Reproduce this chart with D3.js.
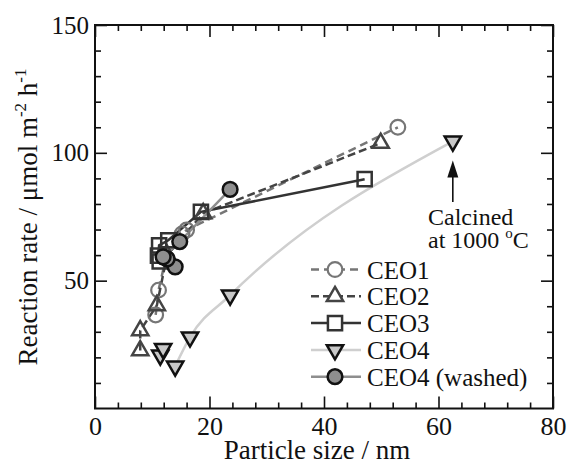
<!DOCTYPE html>
<html>
<head>
<meta charset="utf-8">
<script src="https://cdn.jsdelivr.net/npm/d3@7"></script>
<style>
  body { margin: 0; background: #fff; }
</style>
</head>
<body>
<script>
// particle size (nm) / reaction rate (umol m-2 h-1) per sample
const ceo1Size = [10.6, 11.1, 12.4, 15.2, 16.0, 52.9];
const ceo1Rate = [36.6, 46.3, 59.0, 68.3, 69.8, 110.0];

const ceo2Size = [7.9, 7.9, 10.8, 12.6, 18.9, 49.9];
const ceo2Rate = [22.7, 30.5, 40.3, 60.0, 76.3, 103.8];

const ceo3Size = [11.3, 11.0, 11.2, 12.8, 18.5, 47.1];
const ceo3Rate = [57.5, 59.8, 63.8, 65.8, 76.9, 89.7];

const ceo4Size = [11.4, 11.9, 14.0, 16.6, 23.6, 62.5];
const ceo4Rate = [20.8, 23.4, 16.5, 27.9, 44.3, 104.5];
const ceo4TrendIdx = [2, 3, 4, 5];   // points the grey guide curve runs through

const washedSize = [14.0, 12.6, 11.9, 14.8, 23.6];
const washedRate = [55.4, 58.5, 59.3, 65.3, 85.7];

const seriesNames = ["CEO1", "CEO2", "CEO3", "CEO4", "CEO4 (washed)"];
const xTicks = [0, 20, 40, 60, 80];
const yTicks = [50, 100, 150];

const W = 568, H = 464;
const margin = {top: 25, right: 15, bottom: 55.5, left: 95};
const FONT = "'Liberation Serif', 'Times New Roman', Times, 'DejaVu Serif', serif";

const x = d3.scaleLinear().domain([0, 80]).range([margin.left, W - margin.right]);
const y = d3.scaleLinear().domain([0, 150]).range([H - margin.bottom, margin.top]);

const svg = d3.select("body").append("svg")
  .attr("width", W).attr("height", H)
  .attr("font-family", FONT);

const zip = (xs, ys) => xs.map((v, i) => [v, ys[i]]);

const series = [
  {name: seriesNames[0], pts: zip(ceo1Size, ceo1Rate), color: "#767676", dash: "8,5", sym: d3.symbolCircle, size: 170, fill: "none", mstroke: "#767676", mw: 2.2, lw: 2.5},
  {name: seriesNames[1], pts: zip(ceo2Size, ceo2Rate), color: "#444", dash: "8,4", sym: d3.symbolTriangle, size: 115, rot: 0, fill: "none", mstroke: "#444", mw: 2.5, lw: 2.5},
  {name: seriesNames[2], pts: zip(ceo3Size, ceo3Rate), color: "#333", dash: null, sym: d3.symbolSquare, size: 200, fill: "none", mstroke: "#333", mw: 2.5, lw: 2.5},
  {name: seriesNames[3], pts: zip(ceo4Size, ceo4Rate), color: "#cfcfcf", dash: null, sym: d3.symbolTriangle, size: 115, rot: 180, fill: "#c8c8c8", mstroke: "#111", mw: 2.5, lw: 2.5,
    line: ceo4TrendIdx.map(i => [ceo4Size[i], ceo4Rate[i]]), curve: d3.curveMonotoneX},
  {name: seriesNames[4], pts: zip(washedSize, washedRate), color: "#8e8e8e", dash: null, sym: d3.symbolCircle, size: 170, fill: "#8e8e8e", mstroke: "#111", mw: 2.5, lw: 2.5}
];

const plot = svg.append("g");

series.forEach(s => {
  const line = d3.line().x(d => x(d[0])).y(d => y(d[1])).curve(s.curve || d3.curveLinear);
  plot.append("path")
    .attr("d", line(s.line || s.pts))
    .attr("fill", "none")
    .attr("stroke", s.color)
    .attr("stroke-width", s.lw)
    .attr("stroke-dasharray", s.dash);
});

series.forEach(s => {
  plot.selectAll(null).data(s.pts).enter().append("path")
    .attr("d", d3.symbol(s.sym, s.size))
    .attr("transform", d => "translate(" + x(d[0]) + "," + y(d[1]) + ")" + (s.rot ? " rotate(" + s.rot + ")" : ""))
    .attr("fill", s.fill)
    .attr("stroke", s.mstroke)
    .attr("stroke-width", s.mw);
});

// axes: ticks point inward on all four sides
const ax = svg.append("g");
const xMinor = d3.range(0, 81, 4).filter(v => v % 20 !== 0);
const yMinor = d3.range(0, 151, 10).filter(v => v % 50 !== 0);

function styleAxis(g) {
  g.attr("font-family", FONT);
  g.select(".domain").remove();
  g.selectAll(".tick line").attr("stroke", "#111").attr("stroke-width", 1.6);
}

ax.append("g").attr("transform", "translate(0," + y(0) + ")")
  .call(d3.axisBottom(x).tickValues(xTicks).tickSize(-12).tickPadding(8).tickFormat(d3.format("d")))
  .call(styleAxis)
  .selectAll("text").style("font-size", "26px").style("font-family", FONT).attr("fill", "#111");
ax.append("g").attr("transform", "translate(0," + y(0) + ")")
  .call(d3.axisBottom(x).tickValues(xMinor).tickSize(-6).tickFormat(""))
  .call(styleAxis);
ax.append("g").attr("transform", "translate(0," + y(150) + ")")
  .call(d3.axisTop(x).tickValues(xTicks).tickSize(-12).tickFormat(""))
  .call(styleAxis);
ax.append("g").attr("transform", "translate(0," + y(150) + ")")
  .call(d3.axisTop(x).tickValues(xMinor).tickSize(-6).tickFormat(""))
  .call(styleAxis);

ax.append("g").attr("transform", "translate(" + x(0) + ",0)")
  .call(d3.axisLeft(y).tickValues(yTicks).tickSize(-12).tickPadding(6).tickFormat(d3.format("d")))
  .call(styleAxis)
  .selectAll("text").style("font-size", "25px").style("font-family", FONT).attr("fill", "#111");
ax.append("g").attr("transform", "translate(" + x(0) + ",0)")
  .call(d3.axisLeft(y).tickValues(yMinor).tickSize(-6).tickFormat(""))
  .call(styleAxis);
ax.append("g").attr("transform", "translate(" + x(80) + ",0)")
  .call(d3.axisRight(y).tickValues(yTicks).tickSize(-12).tickFormat(""))
  .call(styleAxis);
ax.append("g").attr("transform", "translate(" + x(80) + ",0)")
  .call(d3.axisRight(y).tickValues(yMinor).tickSize(-6).tickFormat(""))
  .call(styleAxis);

svg.append("rect")
  .attr("x", x(0)).attr("y", y(150))
  .attr("width", x(80) - x(0)).attr("height", y(0) - y(150))
  .attr("fill", "none").attr("stroke", "#111").attr("stroke-width", 2);

// axis titles
svg.append("text")
  .attr("x", 317).attr("y", 459)
  .attr("text-anchor", "middle")
  .attr("fill", "#111")
  .style("font-family", FONT)
  .style("font-size", "27px")
  .text("Particle size / nm");

const yt = svg.append("text")
  .attr("transform", "translate(37,217) rotate(-90)")
  .attr("text-anchor", "middle")
  .attr("fill", "#111")
  .style("font-family", FONT)
  .style("font-size", "27px");
yt.append("tspan").text("Reaction rate / \u03bcmol m");
yt.append("tspan").attr("dy", -11).style("font-size", "17px").text("-2");
yt.append("tspan").attr("dy", 11).text(" h");
yt.append("tspan").attr("dy", -11).style("font-size", "17px").text("-1");

// annotation arrow
const arrowX = 62.5, arrowFrom = 80.8, arrowTo = 97.0;
svg.append("line")
  .attr("x1", x(arrowX)).attr("x2", x(arrowX))
  .attr("y1", y(arrowFrom)).attr("y2", y(arrowTo) + 12)
  .attr("stroke", "#111").attr("stroke-width", 1.6);
svg.append("path")
  .attr("d", "M" + x(arrowX) + "," + y(arrowTo) + " l-5.5,17 l11,0 z")
  .attr("fill", "#111");

const note = svg.append("g").style("font-size", "24px").style("font-family", FONT).attr("fill", "#111");
note.append("text").attr("x", 428).attr("y", 225).text("Calcined");
const n2 = note.append("text").attr("x", 428).attr("y", 248);
n2.append("tspan").text("at 1000 ");
n2.append("tspan").attr("dy", -10).style("font-size", "15px").text("o");
n2.append("tspan").attr("dy", 10).text("C");

// legend
const lg = svg.append("g").attr("transform", "translate(311,269.5)");
series.forEach((s, i) => {
  const row = lg.append("g").attr("transform", "translate(0," + (i * 26.8) + ")");
  row.append("line")
    .attr("x1", 0).attr("x2", 50)
    .attr("stroke", s.color).attr("stroke-width", s.lw)
    .attr("stroke-dasharray", s.dash);
  row.append("path")
    .attr("d", d3.symbol(s.sym, s.size))
    .attr("transform", "translate(24,0)" + (s.rot ? " rotate(" + s.rot + ")" : ""))
    .attr("fill", s.fill === "none" ? "#fff" : s.fill)
    .attr("stroke", s.mstroke).attr("stroke-width", s.mw);
  row.append("text")
    .attr("x", 56).attr("y", 9)
    .attr("fill", "#111")
    .style("font-family", FONT)
    .style("font-size", "25px")
    .text(s.name);
});
</script>
</body>
</html>
